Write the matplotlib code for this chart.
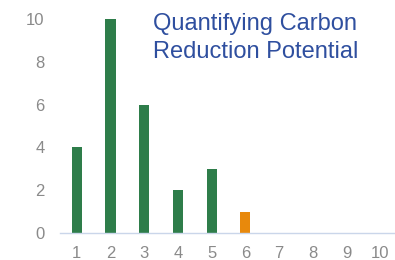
import matplotlib
matplotlib.use("Agg")
import matplotlib.pyplot as plt

# data
categories = [1, 2, 3, 4, 5, 6, 7, 8, 9, 10]
values = [4, 10, 6, 2, 3, 1, 0, 0, 0, 0]
highlight = 6
title = "Quantifying Carbon\nReduction Potential"

green = "#2E7D4A"
orange = "#E8890C"
colors = [orange if c == highlight else green for c in categories]

plt.rcParams['font.family'] = ['Liberation Sans', 'DejaVu Sans']

fig = plt.figure(figsize=(3.95, 2.6), dpi=100)
ax = fig.add_axes([60 / 395, 27 / 260, 337 / 395, 214 / 260])

ax.bar(categories, values, width=0.3, color=colors, zorder=2)

ax.set_xlim(0.5, 10.5)
ax.set_ylim(0, 10)
ax.set_xticks(categories)
ax.set_yticks([0, 2, 4, 6, 8, 10])

for side in ['top', 'right', 'left']:
    ax.spines[side].set_visible(False)
ax.spines['bottom'].set_color('#CAD6EA')
ax.spines['bottom'].set_linewidth(1.0)

ax.tick_params(axis='both', length=0, labelsize=12, colors='#8A8A8A')
ax.tick_params(axis='y', pad=11)
ax.tick_params(axis='x', pad=9)

fig.text(153 / 395, 1 - 13 / 260, title, ha='left', va='top',
         fontsize=17, color='#2F4F9F', linespacing=1.36)

fig.savefig('out.png', dpi=100)
